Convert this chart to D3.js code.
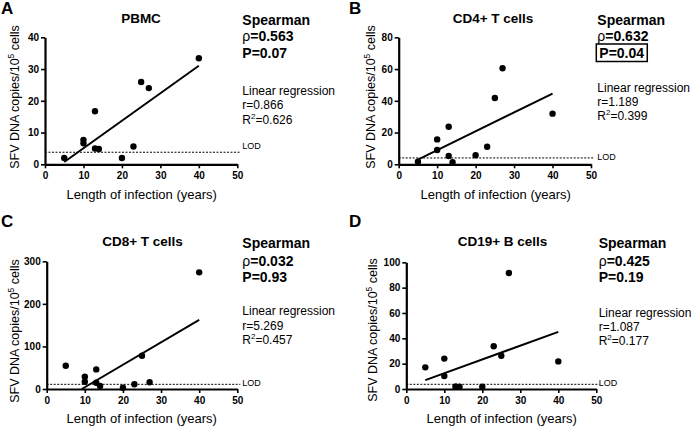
<!DOCTYPE html>
<html><head><meta charset="utf-8">
<script src="https://cdn.jsdelivr.net/npm/d3@7"></script>
<style>
html,body{margin:0;padding:0;background:#fff;}
svg{display:block;font-family:"Liberation Sans",Arial,sans-serif;}
</style></head><body>
<svg id="c" width="696" height="426"></svg>
<script>
// ---- data ----
const years = [5, 10, 10, 13, 13, 14, 20, 23, 25, 27, 40];
const pbmc  = [2.0, 7.7, 6.6, 16.7, 5.0, 4.8, 2.0, 5.6, 25.9, 24.0, 33.4];
const cd4   = [1.6, 15.7, 9.0, 23.7, 5.2, 1.3, 5.7, 11.1, 41.8, 60.5, 31.9];
const cd8   = [54.7, 28.9, 17.1, 46.0, 14.8, 7.0, 3.0, 11.0, 78.0, 15.7, 274.0];
const cd19  = [17.1, 24.0, 10.3, 1.8, 1.8, 1.8, 1.8, 33.7, 26.3, 91.6, 21.8];
const panelLetters = ["A", "B", "C", "D"];
const titles = ["PBMC", "CD4+ T cells", "CD8+ T cells", "CD19+ B cells"];
const rhos = ["0.563", "0.632", "0.032", "0.425"];
const pValues = ["0.07", "0.04", "0.93", "0.19"];
const slopes = [0.866, 1.189, 5.269, 1.087];
const intercepts = [-3.6, -3.0, -48.5, 1.6];
const r2s = ["0.626", "0.399", "0.457", "0.177"];
const lods = [3.8, 4.0, 11, 3.7];
const yMaxes = [40, 80, 300, 100];
const yTickSteps = [10, 20, 100, 20];
const xTicks = [0, 10, 20, 30, 40, 50];
const seriesList = [pbmc, cd4, cd8, cd19];

// ---- layout ----
const layouts = [
  {xr:[45,237.3], yr:[164.3,37.3], letter:[1,14], title:[141,22.7], sx:242.3, sb:[25,41,57.5,95,109,124], lod:[242.3,149.3], yl:[19,97], xl:[141.7,199.3], box:false},
  {xr:[398.7,591], yr:[164.3,37.3], letter:[349,14], title:[493,22.7], sx:597.3, sb:[25,41,57.5,92,106,120], lod:[597.3,160], yl:[375,97], xl:[495.7,199.3], box:true},
  {xr:[46.7,237.3], yr:[389,261.3], letter:[1,226.5], title:[142.5,245.7], sx:242.3, sb:[248,266.3,282.3,315.3,329.7,344], lod:[242.3,386.3], yl:[19,331], xl:[141.7,423], box:false},
  {xr:[406.3,596.3], yr:[389,262.3], letter:[349,226.5], title:[502.5,245.7], sx:598.7, sb:[248,266,282,317,331,345], lod:[598.7,386.3], yl:[377,330], xl:[501.7,423], box:false}
];

const svg = d3.select("#c");

layouts.forEach((L, i) => {
  const g = svg.append("g");
  const x = d3.scaleLinear().domain([0, 50]).range(L.xr);
  const y = d3.scaleLinear().domain([0, yMaxes[i]]).range(L.yr);

  // axes
  const yAxis = d3.axisLeft(y).tickValues(d3.range(0, yMaxes[i] + 1, yTickSteps[i]))
    .tickSize(4).tickSizeOuter(0).tickPadding(2);
  const xAxis = d3.axisBottom(x).tickValues(xTicks).tickSize(4).tickSizeOuter(0).tickPadding(4);
  const gy = g.append("g").attr("transform", `translate(${x(0)},0)`).call(yAxis);
  const gx = g.append("g").attr("transform", `translate(0,${y(0)})`).call(xAxis);
  [gx, gy].forEach(a => {
    a.selectAll("path.domain").attr("stroke", "#000").attr("stroke-width", 2.2);
    a.selectAll(".tick line").attr("stroke", "#000").attr("stroke-width", 1.6);
    a.selectAll(".tick text").attr("fill", "#000").attr("font-size", 10)
      .attr("font-weight", "bold").attr("font-family", "'Liberation Sans',Arial,sans-serif");
  });

  // LOD line
  g.append("line").attr("x1", x(0)).attr("x2", x(50) + 3)
    .attr("y1", y(lods[i])).attr("y2", y(lods[i]))
    .attr("stroke", "#000").attr("stroke-width", 1).attr("stroke-dasharray", "2,1.5");
  g.append("text").attr("x", L.lod[0]).attr("y", L.lod[1]).attr("font-size", 9).text("LOD");

  // regression line
  const m = slopes[i], b = intercepts[i];
  const xStart = Math.max(d3.min(years), -b / m), xEnd = d3.max(years);
  g.append("line").attr("x1", x(xStart)).attr("y1", y(m * xStart + b))
    .attr("x2", x(xEnd)).attr("y2", y(m * xEnd + b))
    .attr("stroke", "#000").attr("stroke-width", 2);

  // points
  g.selectAll("circle.pt").data(seriesList[i]).join("circle")
    .attr("class", "pt").attr("cx", (d, j) => x(years[j])).attr("cy", d => y(d))
    .attr("r", 3.2).attr("fill", "#000");

  // letter and title
  g.append("text").attr("x", L.letter[0]).attr("y", L.letter[1]).attr("font-size", 17)
    .attr("font-weight", "bold").text(panelLetters[i]);
  g.append("text").attr("x", L.title[0]).attr("y", L.title[1]).attr("text-anchor", "middle")
    .attr("font-size", 13.5).attr("font-weight", "bold").text(titles[i]);

  // axis titles
  g.append("text").attr("x", L.xl[0]).attr("y", L.xl[1]).attr("text-anchor", "middle")
    .attr("font-size", 13).text("Length of infection (years)");
  const yl = g.append("text").attr("transform", `translate(${L.yl[0]},${L.yl[1]}) rotate(-90)`)
    .attr("text-anchor", "middle").attr("font-size", 12.5);
  yl.append("tspan").text("SFV DNA copies/10");
  yl.append("tspan").attr("font-size", 8.5).attr("dy", -5).text("5");
  yl.append("tspan").attr("dy", 5).text(" cells");

  // stats
  const sb = L.sb;
  g.append("text").attr("x", L.sx).attr("y", sb[0]).attr("font-size", 14).attr("font-weight", "bold").text("Spearman");
  const rt = g.append("text").attr("x", L.sx).attr("y", sb[1]).attr("font-size", 14);
  rt.append("tspan").text("ρ");
  rt.append("tspan").attr("font-weight", "bold").text("=" + rhos[i]);
  const pt = g.append("text").attr("x", L.sx + (L.box ? 2 : 0)).attr("y", sb[2]).attr("font-size", 14)
    .attr("font-weight", "bold").text("P=" + pValues[i]);
  if (L.box) {
    const bb = pt.node().getBBox();
    g.append("rect").attr("x", bb.x - 3).attr("y", sb[2] - 13.5).attr("width", bb.width + 6).attr("height", 17.5)
      .attr("fill", "none").attr("stroke", "#000").attr("stroke-width", 1.5);
  }
  g.append("text").attr("x", L.sx).attr("y", sb[3]).attr("font-size", 12).text("Linear regression");
  g.append("text").attr("x", L.sx).attr("y", sb[4]).attr("font-size", 12).text("r=" + slopes[i].toFixed(3));
  const r2t = g.append("text").attr("x", L.sx).attr("y", sb[5]).attr("font-size", 12);
  r2t.append("tspan").text("R");
  r2t.append("tspan").attr("font-size", 8).attr("dy", -5).text("2");
  r2t.append("tspan").attr("dy", 5).text("=" + r2s[i]);
});
</script>
</body></html>
